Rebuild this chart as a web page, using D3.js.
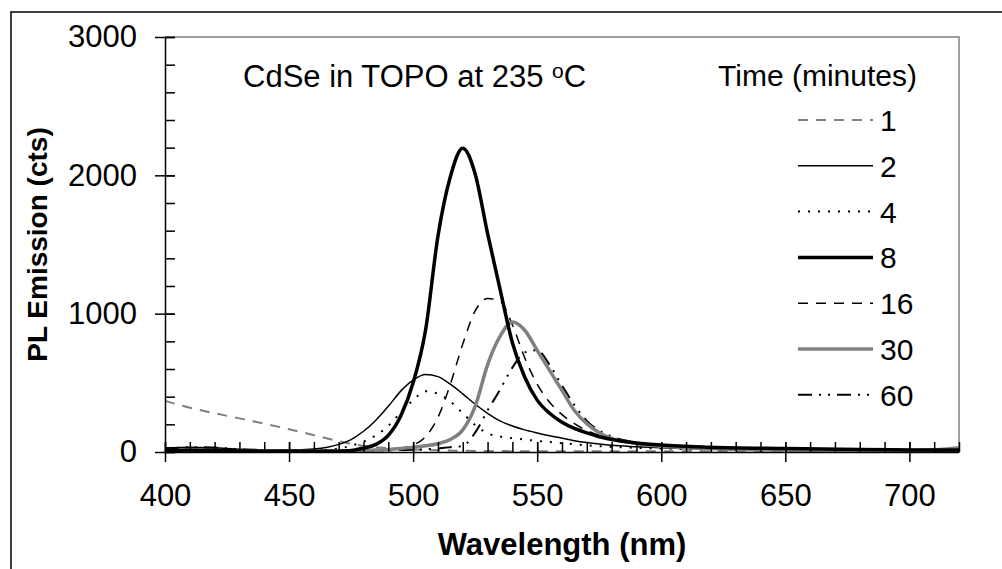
<!DOCTYPE html>
<html><head><meta charset="utf-8">
<script src="https://cdn.jsdelivr.net/npm/d3@7"></script>
<style>
html,body{margin:0;padding:0;background:#fff;}
text{font-family:"Liberation Sans",Arial,sans-serif;fill:#000;}
</style></head>
<body>
<svg id="chart" width="1002" height="569"></svg>
<script>
const wavelengths = [400,410,420,430,440,450,460,465,470,475,480,485,490,495,500,505,510,515,520,525,530,535,540,545,550,555,560,565,570,575,580,590,600,620,650,680,700,710,720];
const t1  = [370,320,280,243,205,165,122,100,78,60,45,35,28,22,18,15,12,10,9,8,7,7,6,6,6,5,5,5,5,5,5,5,5,5,5,5,5,5,8];
const t2  = [30,35,30,20,15,15,22,32,55,90,150,230,330,440,520,560,545,490,420,345,280,225,188,160,138,118,100,82,68,57,48,38,30,20,12,9,8,8,10];
const t4  = [8,8,8,8,8,8,10,15,25,45,75,120,190,285,375,440,420,365,280,195,135,112,100,90,80,72,64,56,48,42,37,30,25,18,12,8,7,7,10];
const t8  = [10,15,12,8,6,5,5,5,6,10,28,55,120,260,500,880,1560,1990,2196,2010,1580,1180,790,540,375,280,215,170,138,110,90,65,50,35,25,18,15,14,15];
const t16 = [8,8,8,8,8,8,8,8,9,9,10,12,18,28,50,110,250,490,780,1020,1110,1090,920,680,490,360,270,205,155,120,95,65,48,32,22,17,15,15,18];
const t30 = [5,5,5,5,5,5,6,7,8,9,10,14,18,25,35,45,60,90,160,330,630,835,940,880,735,590,445,300,205,140,98,62,42,25,15,12,12,15,30];
const t60 = [20,35,32,20,15,12,10,10,10,10,10,11,12,14,16,20,26,35,45,140,300,450,610,720,735,630,480,340,225,155,112,68,47,30,20,16,15,18,32];

const seriesNames = ["1","2","4","8","16","30","60"];
const seriesValues = [t1,t2,t4,t8,t16,t30,t60];
const seriesColor = ["#808080","#000","#000","#000","#000","#808080","#000"];
const seriesWidth = [2,1.5,2,3.5,1.5,3.5,2];
const seriesDash = ["10,8","","2,8","","10,8","","14,7,2,7,2,7"];

const xTicks = [400,450,500,550,600,650,700];
const yTicks = [0,1000,2000,3000];

const svg = d3.select("#chart");
const x = d3.scaleLinear().domain([400,720]).range([165,959]);
const y = d3.scaleLinear().domain([0,3000]).range([452,37]);

// outer frame
svg.append("rect").attr("x",11).attr("y",12).attr("width",1010).attr("height",600)
  .attr("fill","none").attr("stroke","#000").attr("stroke-width",1.5);

// plot border (gray top / right)
svg.append("path").attr("d",`M${x(400)},${y(3000)}H${x(720)}V${y(0)}`)
  .attr("fill","none").attr("stroke","#808080").attr("stroke-width",1.5);

// series
const line = d3.line().x((d,i)=>x(wavelengths[i])).y(d=>y(d)).curve(d3.curveMonotoneX);
const order = [0,1,2,4,6,5,3];
order.forEach(k=>{
  svg.append("path").datum(seriesValues[k]).attr("d",line)
    .attr("fill","none").attr("stroke",seriesColor[k]).attr("stroke-width",seriesWidth[k])
    .attr("stroke-dasharray",seriesDash[k]||null).attr("stroke-linejoin","round");
});

// x axis
const xMinor = d3.range(400,721,10);
const gxm = svg.append("g").attr("transform",`translate(0,${y(0)})`)
  .call(d3.axisBottom(x).tickValues(xMinor).tickSize(-10).tickFormat(""));
gxm.select(".domain").remove();
const gx = svg.append("g").attr("transform",`translate(0,${y(0)})`)
  .call(d3.axisBottom(x).tickValues(xTicks).tickSize(10).tickSizeOuter(0).tickPadding(22).tickFormat(d3.format("d")));
gx.selectAll(".tick line").attr("y1",-10);
gx.selectAll("text").style("font-size","31px").attr("fill","#000");

// y axis
const yMinor = d3.range(0,3001,200);
const gym = svg.append("g").attr("transform",`translate(${x(400)},0)`)
  .call(d3.axisLeft(y).tickValues(yMinor).tickSize(-10).tickFormat(""));
gym.select(".domain").remove();
const gy = svg.append("g").attr("transform",`translate(${x(400)},0)`)
  .call(d3.axisLeft(y).tickValues(yTicks).tickSize(10).tickSizeOuter(0).tickPadding(18).tickFormat(d3.format("d")));
gy.selectAll(".tick line").attr("x1",10);
gy.selectAll("text").style("font-size","31px").attr("fill","#000");
svg.selectAll(".domain, .tick line").attr("stroke","#000").attr("stroke-width",1.5);

// axis titles
svg.append("text").attr("x",(x(400)+x(720))/2).attr("y",555).attr("text-anchor","middle")
  .style("font-size","31px").style("font-weight","bold").text("Wavelength (nm)");
svg.append("text").attr("transform",`translate(47,${(y(0)+y(3000))/2}) rotate(-90)`)
  .attr("text-anchor","middle").style("font-size","28px").style("font-weight","bold").text("PL Emission (cts)");

// chart annotation
const ttl = svg.append("text").attr("x",243).attr("y",87).style("font-size","31px");
ttl.append("tspan").text("CdSe in TOPO at 235 ");
ttl.append("tspan").attr("dy",-9).style("font-size","21px").text("o");
ttl.append("tspan").attr("dy",9).text("C");

// legend
svg.append("text").attr("x",917).attr("y",86).attr("text-anchor","end").style("font-size","30px").text("Time (minutes)");
seriesNames.forEach((name,i)=>{
  const ly = 120 + i*45.8;
  svg.append("line").attr("x1",798).attr("x2",873).attr("y1",ly).attr("y2",ly)
    .attr("stroke",seriesColor[i]).attr("stroke-width",seriesWidth[i])
    .attr("stroke-dasharray",seriesDash[i]||null);
  svg.append("text").attr("x",880).attr("y",ly+11).style("font-size","30px").text(name);
});
</script>
</body></html>
